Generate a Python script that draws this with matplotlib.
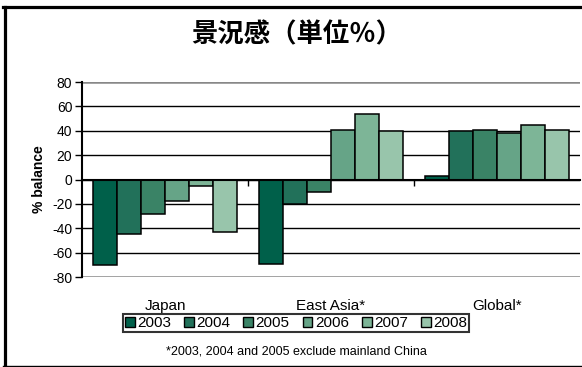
import matplotlib.pyplot as plt
import numpy as np
from matplotlib.lines import Line2D
from matplotlib.patches import Patch
from matplotlib.transforms import blended_transform_factory

plt.rcParams['font.family'] = ['Liberation Sans', 'DejaVu Sans']
plt.rcParams['axes.unicode_minus'] = False

regions = ["Japan", "East Asia*", "Global*"]
years = ["2003", "2004", "2005", "2006", "2007", "2008"]
japan = [-70, -45, -28, -18, -5, -43]
east_asia = [-69, -20, -10, 41, 54, 40]
global_ = [3, 40, 41, 38, 45, 41]
colors = ['#00604a', '#22715a', '#3a8366', '#66a487', '#7db597', '#98c5ab']

values = np.array([japan, east_asia, global_])

fig = plt.figure(figsize=(5.82, 3.67), dpi=100)
ax = fig.add_axes([82 / 582, 1 - 277 / 367, 498 / 582, 195 / 367])

bar_width = 0.145
index = np.arange(len(regions))
for i, year in enumerate(years):
    ax.bar(index - 0.5 + 0.066 + (i + 0.5) * bar_width, values[:, i], bar_width,
           color=colors[i], edgecolor='black', linewidth=1.1, zorder=3, label=year)

ax.set_xlim(-0.5, len(regions) - 0.5)
ax.set_ylim(-80, 80)
ax.set_yticks(np.arange(-80, 81, 20))
ax.tick_params(axis='y', labelsize=10, length=5, width=1, pad=2)
ax.yaxis.grid(True, color='black', linewidth=1, zorder=0)
ax.set_axisbelow(True)
grid = ax.get_ygridlines()
for g in (grid[0], grid[-1]):
    g.set_color('#888888')
    g.set_linewidth(1.8)

for side in ['top', 'right']:
    ax.spines[side].set_visible(False)
ax.spines['left'].set_linewidth(1.5)
ax.spines['bottom'].set_position(('data', 0))
ax.spines['bottom'].set_linewidth(1.5)
ax.spines['bottom'].set_zorder(4)

# category boundaries marked on the zero line, names below the plot
ax.set_xticks(index[:-1] + 0.5)
ax.set_xticklabels([])
ax.tick_params(axis='x', length=4, width=1, direction='out')
trans = blended_transform_factory(ax.transData, ax.transAxes)
for x, name in zip(index, regions):
    ax.text(x, -0.15, name, transform=trans, ha='center', va='center', fontsize=11)

ax.set_ylabel("% balance", fontsize=10, fontweight='bold', labelpad=4)

handles = [Patch(facecolor=c, edgecolor='black', linewidth=1, label=y) for c, y in zip(colors, years)]
leg = fig.legend(handles=handles, loc='center', bbox_to_anchor=(296 / 582, 1 - 323 / 367),
                 ncol=6, fontsize=11, frameon=True, fancybox=False, handlelength=0.65,
                 handleheight=0.65, handletextpad=0.15, columnspacing=0.85,
                 borderpad=0.15, borderaxespad=0)
leg.get_frame().set_edgecolor('black')
leg.get_frame().set_linewidth(1.5)

fig.text(297 / 582, 1 - 35 / 367, "景況感（単位％）", ha='center', va='center',
         fontsize=19, fontweight='bold', family=['Noto Sans CJK JP', 'DejaVu Sans'])
fig.text(296 / 582, 1 - 352 / 367, "*2003, 2004 and 2005 exclude mainland China",
         ha='center', va='center', fontsize=9)

# frame around the chart
fig.add_artist(Line2D([4.5 / 582, 4.5 / 582], [1 - 6.5 / 367, 1 - 366 / 367], color='black', linewidth=2.3))
fig.add_artist(Line2D([3 / 582, 1], [1 - 6.5 / 367, 1 - 6.5 / 367], color='black', linewidth=2.3))
fig.add_artist(Line2D([3 / 582, 1], [1 - 365.5 / 367, 1 - 365.5 / 367], color='black', linewidth=1))

fig.savefig('out.png', dpi=100)
